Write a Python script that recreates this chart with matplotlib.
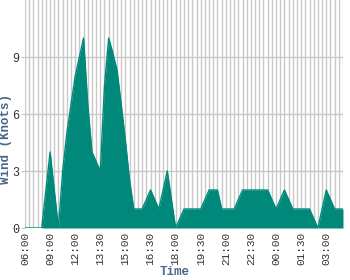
import matplotlib
matplotlib.use('Agg')
import matplotlib.pyplot as plt
import numpy as np

# wind speed in knots, one value per grid column
wind = [0, 0, 0, 0, 0, 2, 4, 2, 0, 3,
        5, 6.5, 8, 9, 10, 6.5, 4, 3.5, 3, 7.5,
        10, 9.2, 8.3, 6.5, 4.6, 2.5, 1, 1, 1, 1.5,
        2, 1.5, 1, 2, 3, 1.5, 0, 0.5, 1, 1,
        1, 1, 1, 1.5, 2, 2, 2, 1, 1, 1,
        1, 1.5, 2, 2, 2, 2, 2, 2, 2, 1.5,
        1, 1.5, 2, 1.5, 1, 1, 1, 1, 1, 0.5,
        0, 1, 2, 1.5, 1, 1, 1]
tick_labels = ['06:00', '09:00', '12:00', '13:30', '15:00', '16:30', '18:00',
               '19:30', '21:00', '22:30', '00:00', '01:30', '03:00']
y_ticks = [0, 3, 6, 9]

mono = 'Liberation Mono'
label_color = '#46698c'
fill_color = '#00897b'
grid_color = '#c8c8c8'

x = np.arange(len(wind))

fig = plt.figure(figsize=(3.5, 2.8), dpi=100)
ax = fig.add_axes([0.0714, 0.1857, 0.9086, 0.8143])

ax.fill_between(x, wind, 0, color=fill_color, linewidth=0, zorder=3)
ax.plot(x, wind, color=fill_color, linewidth=1, zorder=3)

ax.set_xlim(0, len(wind) - 1)
ax.set_ylim(0, 12)

ax.set_xticks(x, minor=True)
ax.set_xticks(x[::6])
ax.set_xticklabels(tick_labels, rotation=90, fontfamily=mono, fontsize=8, color='#333333')
ax.set_yticks(y_ticks)
ax.set_yticklabels([str(v) for v in y_ticks], fontfamily=mono, fontsize=8.5, color='#333333')

ax.grid(True, which='both', axis='x', color=grid_color, linewidth=1, zorder=0)
ax.grid(True, which='major', axis='y', color=grid_color, linewidth=1, zorder=0)
ax.tick_params(axis='x', which='both', length=0, pad=3)
ax.tick_params(axis='y', length=3, color=grid_color, pad=1)

for s in ax.spines.values():
    s.set_visible(False)

ax.set_xlabel('Time', fontfamily=mono, fontweight='bold', fontsize=9, color=label_color)
ax.xaxis.set_label_coords(0.47, -0.165)
ax.set_ylabel('Wind (Knots)', fontfamily=mono, fontweight='bold', fontsize=9, color=label_color)
ax.yaxis.set_label_coords(-0.04, 0.39)

fig.savefig('out.png', dpi=100)
